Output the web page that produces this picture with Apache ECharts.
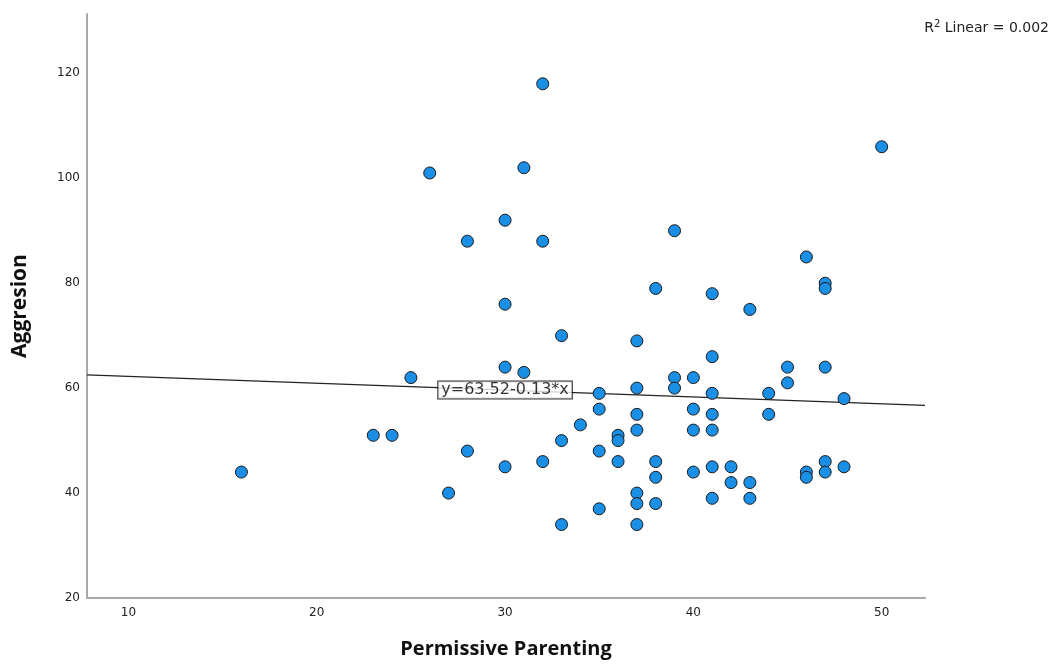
<!DOCTYPE html>
<html>
<head>
<meta charset="utf-8">
<script src="https://cdn.jsdelivr.net/npm/echarts@6/dist/echarts.min.js"></script>
<style>
html,body{margin:0;padding:0;background:#fff;}
#chart{width:1062px;height:666px;}
</style>
</head>
<body>
<div id="chart"></div>
<script>
// Permissive Parenting (x) values
const parenting = [16,23,24,25,26,27,28,28,30,30,30,30,31,31,32,32,32,33,33,33,34,35,35,35,35,36,36,36,
  37,37,37,37,37,37,37,38,38,38,38,39,39,39,40,40,40,40,41,41,41,41,41,41,41,42,42,43,43,43,44,44,45,45,
  46,46,46,47,47,47,47,47,48,48,50];
// Aggresion (y) values
const aggression = [44,51,51,62,101,40,88,48,92,76,64,45,102,63,118,88,46,70,50,34,53,59,56,48,37,51,50,46,
  69,60,55,52,40,38,34,79,46,43,38,90,62,60,62,56,52,44,78,66,59,55,52,45,39,45,42,75,42,39,59,55,64,61,
  85,44,43,80,79,64,46,44,58,45,106];
const xTicks = [10,20,30,40,50];
const yTicks = [20,40,60,80,100,120];
const xRange = [7.8, 52.3];
const yRange = [20, 131.3];
const intercept = 63.52;
const slope = -0.13;
const fitLabelX = 30;
const rSquared = '0.002';

const points = parenting.map((x, i) => [x, aggression[i]]);
const fitLine = xRange.map(x => [x, intercept + slope * x]);

const chart = echarts.init(document.getElementById('chart'), null, {renderer: 'canvas'});
chart.setOption({
  animation: false,
  backgroundColor: '#ffffff',
  title: {
    text: 'R{sup|2} Linear = ' + rSquared,
    right: 8,
    top: 14,
    textStyle: {
      fontFamily: 'DejaVu Sans',
      fontSize: 14,
      fontWeight: 'normal',
      color: '#222',
      rich: {
        sup: {fontSize: 10, fontFamily: 'DejaVu Sans', color: '#222', padding: [0, 0, 8, 0]}
      }
    }
  },
  grid: {left: 87, right: 137, top: 14, bottom: 68, containLabel: false},
  xAxis: {
    type: 'value',
    min: xRange[0],
    max: xRange[1],
    name: 'Permissive Parenting',
    nameLocation: 'middle',
    nameGap: 41,
    nameTextStyle: {fontFamily: 'Open Sans', fontSize: 20, fontWeight: 'bold', color: '#111'},
    axisLine: {show: true, onZero: false, lineStyle: {color: '#a8a8a8', width: 2}},
    axisTick: {show: false},
    splitLine: {show: false},
    axisLabel: {
      customValues: xTicks,
      margin: 9,
      fontFamily: 'DejaVu Sans',
      fontSize: 12,
      color: '#222'
    }
  },
  yAxis: {
    type: 'value',
    min: yRange[0],
    max: yRange[1],
    name: 'Aggresion',
    nameLocation: 'middle',
    nameRotate: 90,
    nameGap: 56,
    nameTextStyle: {fontFamily: 'Open Sans', fontSize: 21, fontWeight: 'bold', color: '#111'},
    axisLine: {show: true, onZero: false, lineStyle: {color: '#a8a8a8', width: 2}},
    axisTick: {show: false},
    splitLine: {show: false},
    axisLabel: {
      customValues: yTicks,
      margin: 7,
      fontFamily: 'DejaVu Sans',
      fontSize: 12,
      color: '#222'
    }
  },
  series: [
    {
      type: 'line',
      data: fitLine,
      showSymbol: false,
      symbol: 'none',
      lineStyle: {color: '#222', width: 1.2},
      z: 2,
      silent: true
    },
    {
      type: 'scatter',
      data: points,
      symbol: 'circle',
      symbolSize: 12,
      itemStyle: {color: '#1a8fe6', borderColor: '#1a1a1a', borderWidth: 1, opacity: 1},
      z: 3
    },
    {
      type: 'scatter',
      data: [[fitLabelX, intercept + slope * fitLabelX]],
      symbolSize: 0,
      z: 4,
      label: {
        show: true,
        position: 'inside',
        formatter: 'y=' + intercept.toFixed(2) + '-' + Math.abs(slope).toFixed(2) + '*x',
        fontFamily: 'DejaVu Sans',
        fontSize: 16,
        color: '#000',
        backgroundColor: '#ffffff',
        borderColor: '#000',
        borderWidth: 1,
        padding: [1, 3, 0, 3]
      }
    }
  ]
});
</script>
</body>
</html>
